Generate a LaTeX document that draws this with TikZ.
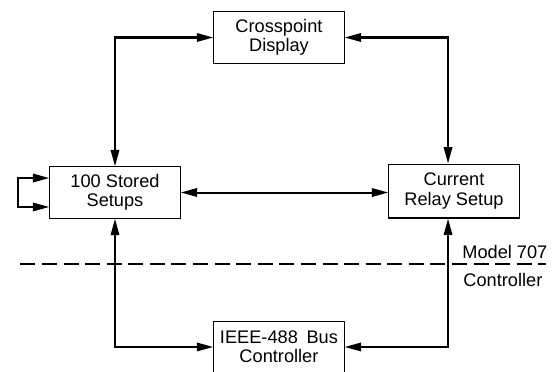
\documentclass[tikz,border=0pt]{standalone}
\usepackage{fontspec}
\setmainfont{Liberation Sans}
\usetikzlibrary{arrows.meta,positioning}

\begin{document}
\begin{tikzpicture}[>={Triangle[length=9pt,width=4.6pt]},
    block/.style={draw,line width=.6pt,minimum width=.99in,minimum height=.39in,
      align=center,inner sep=0pt,font=\fontsize{10}{10.5}\selectfont},
    link/.style={<->,line width=1.1pt}]
      \useasboundingbox (0in,0in) rectangle (4.233in,-2.82in);
      \def\dashbar{-2.006in}
      \def\shiftx{-.045in}
      \node [block] (cross) at (2.12in,-.285in) {Crosspoint\\Display};
      \node [block] (stored) at (.874in,-1.463in) {100 Stored\\Setups};
      \node [block,minimum height=.41in] (relay) at (3.45in,-1.452in) {Current\\Relay Setup};
      \node [block] (bus) at (2.12in,-2.637in) {IEEE-488\hspace{2pt} Bus\\Controller};
      \draw [link] (stored.north) |- (cross.west);
      \draw [link] ([xshift=\shiftx]relay.north) |- (cross.east);
      \draw [link] (stored.east) -- (stored.east -| relay.west);
      \draw [link] ([yshift=.11in]stored.west) -- ++(-.24in,0) |- ([yshift=-.11in]stored.west);
      \draw [link] (stored.south) |- (bus.west);
      \draw [link] ([xshift=\shiftx]relay.south) |- (bus.east);
      \draw [line width=.6pt,dash pattern=on .114in off .05in] (.155in,\dashbar) -- (4.15in,\dashbar);
      \node [anchor=base west,inner sep=0pt] (model) at (3.511in,-1.961in) {Model 707};
      \node [anchor=base west,inner sep=0pt] (ctrl) at (3.519in,-2.181in) {Controller};
    \end{tikzpicture}
\end{document}
